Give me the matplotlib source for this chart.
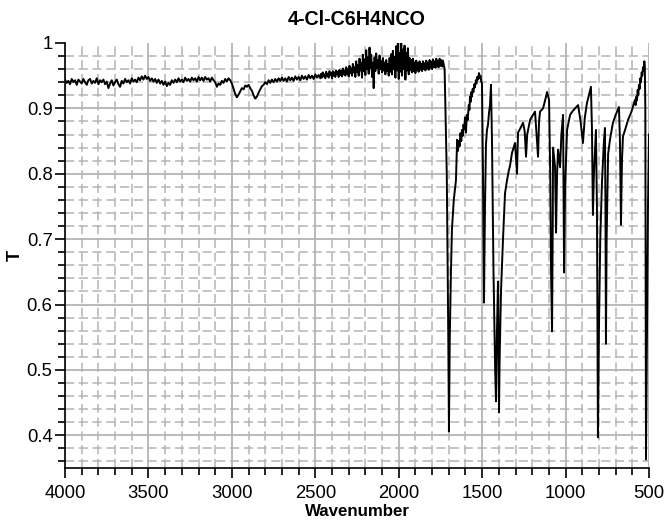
import matplotlib.pyplot as plt
from matplotlib.ticker import MultipleLocator, FormatStrFormatter

plt.rcParams['font.family'] = ['Liberation Sans', 'DejaVu Sans']

# (wavenumber, T) pairs, high wavenumber end, noisy baseline
region_a = [
    (4000, .944), (3990, .939), (3980, .942), (3970, .937), (3960, .945),
    (3950, .940), (3940, .943), (3930, .936), (3920, .944), (3910, .941),
    (3900, .938), (3890, .945), (3880, .940), (3870, .936), (3860, .943),
    (3850, .945), (3840, .938), (3830, .942), (3820, .939), (3810, .946),
    (3800, .937), (3790, .943), (3780, .940), (3770, .944), (3760, .937),
    (3750, .941), (3740, .931), (3730, .938), (3720, .943), (3710, .935),
    (3700, .940), (3690, .944), (3680, .937), (3670, .933), (3660, .942),
    (3650, .938), (3640, .945), (3630, .940), (3620, .943), (3610, .938),
    (3600, .946), (3590, .941), (3580, .944), (3570, .940), (3560, .947),
    (3550, .943), (3540, .949), (3530, .944), (3520, .950), (3510, .945),
    (3500, .948), (3490, .942), (3480, .946), (3470, .941), (3460, .945),
    (3450, .939), (3440, .944), (3430, .938), (3420, .942), (3410, .936),
    (3400, .941), (3390, .934), (3380, .939), (3370, .936), (3360, .943),
    (3350, .939), (3340, .944), (3330, .940), (3320, .946), (3310, .941),
    (3300, .944), (3290, .940), (3280, .947), (3270, .942), (3260, .945),
    (3250, .941), (3240, .947), (3230, .943), (3220, .946), (3210, .941),
    (3200, .948), (3190, .943), (3180, .947), (3170, .942), (3160, .948),
    (3150, .944), (3140, .946), (3130, .941), (3120, .947), (3110, .943),
    (3100, .940),
]

# C-H stretching bands and flat stretch after them
region_b = [
    (3090, .933), (3080, .938), (3070, .936), (3060, .942), (3050, .939),
    (3040, .945), (3030, .941), (3020, .946), (3010, .943), (3000, .938),
    (2990, .930), (2980, .922), (2970, .917), (2960, .921), (2950, .926),
    (2940, .931), (2930, .929), (2920, .935), (2910, .933), (2900, .936),
    (2890, .931), (2880, .927), (2870, .920), (2860, .915), (2850, .918),
    (2840, .924), (2830, .929), (2820, .934), (2810, .936), (2800, .940),
    (2790, .937), (2780, .943), (2770, .939), (2760, .944), (2750, .940),
    (2740, .945), (2730, .941), (2720, .946), (2710, .942), (2700, .947),
    (2690, .942), (2680, .946), (2670, .941), (2660, .948), (2650, .943),
    (2640, .947), (2630, .942), (2620, .949), (2610, .944), (2600, .948),
    (2590, .943), (2580, .950), (2570, .945), (2560, .949), (2550, .944),
    (2540, .951), (2530, .946), (2520, .950), (2510, .945), (2500, .952),
    (2490, .947), (2480, .951), (2470, .946),
]

# noisy window 2465-1735
region_c = [
    (2465, .953), (2460, .947), (2455, .955), (2450, .949), (2445, .952),
    (2440, .946), (2435, .956), (2430, .950), (2425, .953), (2420, .947),
    (2415, .957), (2410, .951), (2405, .954), (2400, .946), (2395, .957),
    (2390, .950), (2385, .955), (2380, .948), (2375, .958), (2370, .952),
    (2365, .956), (2360, .948), (2355, .959), (2350, .951), (2345, .957),
    (2340, .949), (2335, .961), (2330, .952), (2325, .958), (2320, .950),
    (2315, .963), (2310, .953), (2305, .960), (2300, .949), (2295, .965),
    (2290, .954), (2285, .961), (2280, .950), (2275, .968), (2270, .955),
    (2265, .963), (2260, .948), (2255, .972), (2250, .956), (2245, .966),
    (2240, .950), (2235, .976), (2230, .958), (2225, .969), (2220, .947),
    (2215, .982), (2210, .957), (2205, .975), (2200, .951), (2195, .989),
    (2190, .960), (2185, .978), (2180, .953), (2175, .993), (2170, .962),
    (2165, .982), (2160, .948), (2155, .970), (2150, .931), (2145, .978),
    (2140, .957), (2135, .984), (2130, .962), (2125, .974), (2120, .953),
    (2115, .981), (2110, .960), (2105, .972), (2100, .955), (2095, .977),
    (2090, .958), (2085, .970), (2080, .952), (2075, .974), (2070, .957),
    (2065, .968), (2060, .950), (2055, .977), (2050, .956), (2045, .983),
    (2040, .952), (2035, .988), (2030, .960), (2025, .979), (2020, .947),
    (2015, .995), (2010, .958), (2005, .999), (2000, .945), (1995, .985),
    (1990, .956), (1985, 1.000), (1980, .950), (1975, .990), (1970, .960),
    (1965, .996), (1960, .944), (1955, .985), (1950, .958), (1945, .992),
    (1940, .952), (1935, .977), (1930, .958), (1925, .974), (1920, .955),
    (1915, .976), (1910, .957), (1905, .970), (1900, .954), (1895, .973),
    (1890, .958), (1885, .969), (1880, .956), (1875, .972), (1870, .959),
    (1865, .968), (1860, .957), (1855, .972), (1850, .960), (1845, .969),
    (1840, .958), (1835, .973), (1830, .961), (1825, .970), (1820, .959),
    (1815, .974), (1810, .962), (1805, .971), (1800, .960), (1795, .975),
    (1790, .963), (1785, .972), (1780, .962), (1775, .976), (1770, .964),
    (1765, .973), (1760, .963), (1755, .976), (1750, .965), (1745, .974),
    (1740, .964), (1735, .973),
]

# NCO band and fingerprint region
region_d = [
    (1725, .960), (1712, .800), (1703, .550), (1699, .406), (1694, .550),
    (1687, .650), (1681, .715), (1670, .760), (1657, .790), (1650, .852),
    (1645, .835), (1640, .850), (1635, .842), (1630, .862), (1625, .850),
    (1621, .867), (1616, .858), (1612, .875), (1607, .868), (1603, .886),
    (1597, .863), (1592, .890), (1587, .882), (1580, .905), (1576, .898),
    (1573, .918), (1569, .910), (1565, .925), (1561, .918), (1557, .930),
    (1552, .925), (1547, .937), (1543, .932), (1538, .943), (1534, .938),
    (1530, .948), (1525, .944), (1519, .954), (1514, .946), (1510, .950),
    (1505, .940), (1501, .939), (1495, .800), (1489, .603), (1483, .750),
    (1477, .845), (1471, .867), (1465, .875), (1459, .893), (1453, .905),
    (1447, .936), (1441, .850), (1432, .650), (1422, .500), (1417, .452),
    (1412, .550), (1405, .635), (1402, .550), (1399, .435), (1395, .520),
    (1387, .620), (1375, .700), (1363, .770), (1351, .790), (1340, .805),
    (1333, .812), (1321, .832), (1303, .847), (1291, .800), (1285, .863),
    (1270, .870), (1255, .878), (1245, .865), (1237, .826), (1230, .860),
    (1213, .882), (1200, .888), (1183, .895), (1165, .826), (1159, .880),
    (1153, .895), (1135, .900), (1120, .915), (1111, .925), (1099, .913),
    (1092, .800), (1087, .650), (1081, .559), (1077, .720), (1075, .840),
    (1063, .810), (1057, .710), (1051, .800), (1045, .837), (1033, .810),
    (1025, .860), (1015, .890), (1012, .780), (1009, .649), (1003, .780),
    (991, .867), (973, .890), (960, .895), (943, .900), (925, .905),
    (910, .880), (896, .847), (885, .885), (872, .908), (860, .920),
    (848, .933), (842, .870), (836, .737), (830, .800), (818, .867),
    (812, .750), (806, .397), (800, .560), (792, .700), (782, .786),
    (770, .850), (764, .870), (761, .750), (758, .540), (754, .700),
    (745, .830), (734, .852), (716, .878), (700, .890), (680, .902),
    (674, .850), (668, .722), (662, .820), (656, .857), (640, .870),
    (626, .882), (605, .895), (584, .913), (580, .905), (576, .918),
    (572, .912), (568, .928), (564, .920), (560, .936), (556, .930),
    (552, .946), (548, .940), (544, .955), (540, .950), (536, .963),
    (532, .958), (528, .972), (525, .965), (522, .900), (518, .363),
    (512, .550), (506, .750), (500, .860),
]

spectrum = region_a + region_b + region_c + region_d
wavenumber = [p[0] for p in spectrum]
transmittance = [p[1] for p in spectrum]

fig = plt.figure(figsize=(6.67, 5.21), dpi=100)
ax = fig.add_axes([0.0975, 0.1017, 0.8755, 0.8158])

ax.plot(wavenumber, transmittance, color='black', linewidth=1.4)

ax.set_xlim(4000, 500)
ax.set_ylim(0.35, 1.0)

ax.xaxis.set_major_locator(MultipleLocator(500))
ax.xaxis.set_minor_locator(MultipleLocator(100))
ax.yaxis.set_major_locator(MultipleLocator(0.1))
ax.yaxis.set_minor_locator(MultipleLocator(0.02))
ax.yaxis.set_major_formatter(FormatStrFormatter('%g'))

ax.grid(which='major', color='#b4b4b4', linestyle='-', linewidth=1.3)
ax.grid(which='minor', color='#b4b4b4', linestyle=(0, (6, 3)), linewidth=1.1)
ax.set_axisbelow(True)

# no gridline along the top edge
for tick, loc in zip(ax.yaxis.get_major_ticks(), ax.get_yticks()):
    if abs(loc - 1.0) < 1e-6:
        tick.gridline.set_visible(False)

for side in ['top', 'right']:
    ax.spines[side].set_visible(False)
for side in ['left', 'bottom']:
    ax.spines[side].set_linewidth(1.2)

ax.tick_params(which='major', length=7.5, width=1.2, labelsize=13.3)
ax.tick_params(which='minor', length=5, width=1.2)
ax.tick_params(axis='x', which='major', pad=5)
ax.tick_params(axis='y', which='major', pad=1.5)

ax.set_title('4-Cl-C6H4NCO', fontsize=14.2, fontweight='bold', pad=13)
ax.set_xlabel('Wavenumber', fontsize=12.2, fontweight='bold', labelpad=1)
ax.set_ylabel('T', fontsize=13, fontweight='bold', labelpad=2)

fig.savefig('out.png', dpi=100)
